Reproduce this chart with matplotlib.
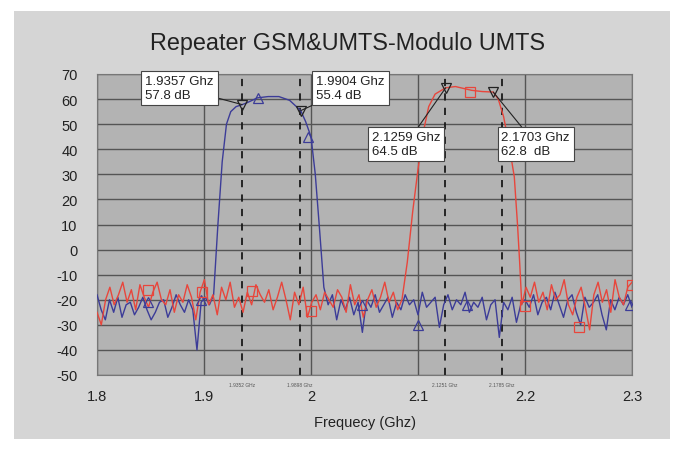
import numpy as np
import matplotlib
matplotlib.use("Agg")
import matplotlib.pyplot as plt
from matplotlib.patches import Rectangle

plt.rcParams['font.family'] = ['Liberation Sans', 'DejaVu Sans']
plt.rcParams['axes.unicode_minus'] = False

# --- datos ---
blue_ruido1 = [-18, -24, -28, -20, -25, -19, -27, -22, -21, -26, -23, -19, -24, -28, -25,
               -21, -20, -27, -23, -18, -22, -25, -20, -24, -40, -21, -19, -22, -18]
blue_banda_f = [1.909, 1.913, 1.917, 1.921, 1.925, 1.930, 1.9357, 1.940, 1.945, 1.950,
                1.960, 1.970, 1.980, 1.9904, 1.995, 2.000, 2.004, 2.008, 2.012, 2.016]
blue_banda_db = [-18, 10, 35, 50, 55, 57, 57.8, 58.5, 59.5, 60.5,
                 61, 61, 59.5, 55.4, 51, 45, 30, 8, -15, -22]
blue_ruido2 = [-22, -18, -28, -20, -24, -19, -26, -21, -33, -20,
               -23, -18, -25, -22, -19, -27, -21, -24, -18, -22,
               -20, -26, -17, -23, -21, -19, -31, -22, -18, -24,
               -20, -22, -17, -25, -21, -23, -19, -28, -22, -20,
               -35, -21, -24, -19, -29, -22, -20, -23, -18, -26,
               -21, -19, -24, -17, -22, -27, -20, -18, -25, -30,
               -19, -23, -21, -18, -26, -32, -20, -24, -19, -22,
               -18, -23]

red_ruido1 = [-25, -30, -20, -15, -22, -18, -13, -21, -16, -24,
              -14, -19, -23, -17, -13, -20, -22, -16, -25, -18,
              -21, -14, -19, -28, -17, -12, -22, -18, -26, -15,
              -20, -13, -23, -19, -25, -17, -22, -14, -18, -21,
              -16, -24, -19, -13, -20, -28, -17, -22, -15, -27,
              -21, -18, -24, -17, -20, -23, -16, -19, -25, -14,
              -22, -18, -27, -20, -16, -23, -19, -13, -21, -17,
              -24, -20]
red_banda_f = [2.085, 2.090, 2.095, 2.100, 2.105, 2.110, 2.116, 2.1259, 2.135,
               2.150, 2.160, 2.1703, 2.175, 2.180, 2.185, 2.190, 2.193, 2.195, 2.197]
red_banda_db = [-20, -5, 15, 32, 47, 57, 62, 64.5, 65,
                63.5, 63, 62.8, 60, 53, 42, 29, 10, -5, -22]
red_ruido2 = [-22, -15, -19, -13, -21, -17, -24, -14, -20, -18, -12, -22, -26, -19,
              -15, -23, -32, -18, -13, -21, -16, -25, -12, -19, -22, -15, -13]

tri_f = [1.848, 1.897, 1.950, 1.997, 2.048, 2.100, 2.146, 2.298]
tri_db = [-21, -20, 60.6, 45, -22, -30, -22, -22]
sq_f = [1.848, 1.898, 1.945, 2.000, 2.149, 2.200, 2.250, 2.300]
sq_db = [-16, -17, -16.6, -24.4, 63, -22.6, -31, -14]

marcas_f = [1.9357, 1.9904, 2.1259, 2.1703]
marcas_db = [57.8, 55.4, 64.5, 62.8]
textos = ["1.9357 Ghz\n57.8 dB", "1.9904 Ghz\n55.4 dB", "2.1259 Ghz\n64.5 dB", "2.1703 Ghz\n62.8  dB"]
pos_textos = [(1.845, 64.5), (2.005, 64.5), (2.057, 42), (2.178, 42)]

lineas_f = [1.9352, 1.9898, 2.1251, 2.1785]
lineas_txt = ["1.9352 GHz", "1.9898 Ghz", "2.1251 Ghz", "2.1785 Ghz"]

xticks = [1.8, 1.9, 2.0, 2.1, 2.2, 2.3]
xtick_labels = ["1.8", "1.9", "2", "2.1", "2.2", "2.3"]
yticks = list(range(-50, 71, 10))

azul = '#3c3c98'
rojo = '#e8463c'

# curvas completas
bf = np.concatenate([np.linspace(1.8, 1.909, len(blue_ruido1)), blue_banda_f[1:-1],
                     np.linspace(2.016, 2.3, len(blue_ruido2))])
bd = np.concatenate([blue_ruido1, blue_banda_db[1:-1], blue_ruido2])
rf = np.concatenate([np.linspace(1.8, 2.085, len(red_ruido1)), red_banda_f[1:-1],
                     np.linspace(2.197, 2.3, len(red_ruido2))])
rd = np.concatenate([red_ruido1, red_banda_db[1:-1], red_ruido2])

fig = plt.figure(figsize=(6.83, 4.52), dpi=100, facecolor='white')
fig.patches.append(Rectangle((14 / 683, 12 / 452), 656 / 683, 428 / 452,
                             transform=fig.transFigure, facecolor='#d5d5d5',
                             edgecolor='none', zorder=-10))
ax = fig.add_axes([97 / 683, 1 - 376 / 452, 535 / 683, 301 / 452])
ax.set_facecolor('#b3b3b3')

ax.plot(bf, bd, color=azul, lw=1.0, zorder=3)
ax.plot(rf, rd, color=rojo, lw=1.0, zorder=3)
ax.plot(tri_f, tri_db, ls='none', marker='^', ms=7, mfc='none', mec=azul, mew=0.9, zorder=4)
ax.plot(sq_f, sq_db, ls='none', marker='s', ms=7, mfc='none', mec=rojo, mew=0.9, zorder=4)
ax.plot(marcas_f, marcas_db, ls='none', marker='v', ms=7, mfc='none', mec='#222222', mew=0.9, zorder=5)

for f, t in zip(lineas_f, lineas_txt):
    ax.axvline(f, color='#1a1a1a', lw=1.3, ls=(0, (4, 4)), zorder=2)
    ax.text(f, -0.022, t, transform=ax.get_xaxis_transform(), fontsize=3.5,
            color='#555555', ha='center', va='top')

for f, d, t, p in zip(marcas_f, marcas_db, textos, pos_textos):
    ax.annotate(t, xy=(f, d), xytext=p, fontsize=9.5, color='#222222', va='center',
                bbox=dict(boxstyle='square,pad=0.3', fc='white', ec='#444444', lw=0.8),
                arrowprops=dict(arrowstyle='-', color='#222222', lw=0.8, shrinkA=0, shrinkB=0),
                zorder=6)

ax.set_xlim(1.8, 2.3)
ax.set_ylim(-50, 70)
ax.set_xticks(xticks)
ax.set_xticklabels(xtick_labels)
ax.set_yticks(yticks)
ax.grid(True, color='#555555', lw=1.0, zorder=1)
ax.set_axisbelow(True)
ax.tick_params(axis='x', length=0, labelsize=10.5, colors='#222222', pad=10)
ax.tick_params(axis='y', length=0, labelsize=10.5, colors='#222222', pad=14)
for s in ax.spines.values():
    s.set_color('#777777')

ax.set_title("Repeater GSM&UMTS-Modulo UMTS", fontsize=16.8, color='#222222', pad=18, x=0.468)
ax.set_xlabel("Frequecy (Ghz)", fontsize=10.5, color='#222222', labelpad=9)

fig.savefig("out.png", dpi=100, facecolor=fig.get_facecolor())
